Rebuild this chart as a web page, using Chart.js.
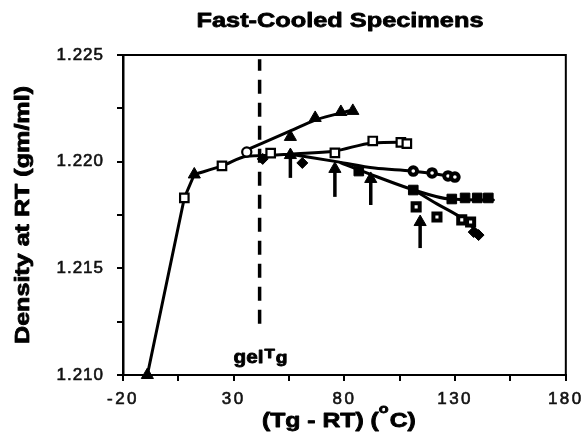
<!DOCTYPE html>
<html><head><meta charset="utf-8">
<script src="https://cdn.jsdelivr.net/npm/chart.js@4/dist/chart.umd.min.js"></script>
<style>html,body{margin:0;padding:0;background:#fff}#wrap{width:588px;height:446px}</style>
</head><body><div id="wrap"><canvas id="c" width="588" height="446"></canvas></div>
<script>
// ---- tick labels ----
const xMajorTicks = [-20, 30, 80, 130, 180];
const xMinorTicks = [5, 55, 105, 155];
const yMajorTicks = [1.210, 1.215, 1.220, 1.225];
const yMinorTicks = [1.2125, 1.2175, 1.2225];

// ---- fitted curves ----
const fitRiseX = [-9, 7.7, 12.2];
const fitRiseY = [1.2100, 1.2183, 1.2194];
const fitMainX = [12.2, 24.7, 35.9, 46.7, 55.6];
const fitMainY = [1.2194, 1.2198, 1.22025, 1.2203, 1.22035];
const fitTriX = [35.9, 55.6, 66.8, 83.8];
const fitTriY = [1.22055, 1.22144, 1.22195, 1.22242];
const fitOpenSqX = [55.6, 75.7, 92.8, 108.4];
const fitOpenSqY = [1.22035, 1.2205, 1.22088, 1.22092];
const fitDiaX = [55.6, 77.1, 93.6, 110.6, 130.8];
const fitDiaY = [1.22035, 1.21999, 1.2197, 1.21956, 1.21928];
const fitFSqX = [78.4, 95, 111.5, 127.6, 147.3];
const fitFSqY = [1.21994, 1.21928, 1.21867, 1.21825, 1.2182];
const fitDotSqX = [111.5, 121.8, 132.1, 141.1];
const fitDotSqY = [1.21867, 1.21802, 1.21741, 1.21666];

// ---- measured points ----
const triX = [-9, 12.2, 55.6, 66.8, 78.4, 83.8];
const triY = [1.2100, 1.2194, 1.22116, 1.22205, 1.22233, 1.22238];
const openSqX = [7.7, 24.7, 46.7, 75.7, 92.8, 105.5, 108.2];
const openSqY = [1.2183, 1.2198, 1.2204, 1.22041, 1.22097, 1.2209, 1.22085];
const openCircX = [35.9];
const openCircY = [1.22045];
const filledDiaX = [43.1, 61, 138.4, 140.6];
const filledDiaY = [1.22013, 1.21994, 1.2167, 1.21656];
const filledSqX = [86.5, 111.1, 128.5, 134.5, 140, 145];
const filledSqY = [1.21956, 1.21867, 1.21825, 1.2183, 1.2183, 1.2183];
const dotCircX = [111.1, 119.6, 126.8, 129.9];
const dotCircY = [1.21956, 1.21947, 1.21933, 1.21928];
const dotSqX = [112.4, 121.8, 133.0, 137.0];
const dotSqY = [1.21788, 1.21741, 1.21727, 1.21717];

// ---- arrows ----
const arrowX = [55.6, 75.7, 91.9, 114.2];
const arrowHeadY = [1.22031, 1.21966, 1.21919, 1.21717];
const arrowTailY = [1.21924, 1.21835, 1.21797, 1.21595];

// ---- gel Tg dashed line ----
const gelTgX = 41.7;
const gelTgYRange = [1.2124, 1.2248];

const zip = (xs, ys) => xs.map((x, i) => ({x: x, y: ys[i]}));
const BLACK = '#000';

function fitLine(xs, ys, straight) {
  const d = {data: zip(xs, ys), showLine: true, borderColor: BLACK, borderWidth: 3,
    pointRadius: 0, order: 10, clip: false, borderJoinStyle: 'round', borderCapStyle: 'round'};
  if (straight) d.tension = 0; else d.cubicInterpolationMode = 'monotone';
  return d;
}
function markers(xs, ys, style, radius, fill, bw) {
  return {data: zip(xs, ys), showLine: false, pointStyle: style, pointRadius: radius,
    pointBackgroundColor: fill, pointBorderColor: BLACK, pointBorderWidth: bw, order: 0, clip: false};
}

const datasets = [
  fitLine(fitRiseX, fitRiseY, true),
  fitLine(fitMainX, fitMainY),
  fitLine(fitTriX, fitTriY),
  fitLine(fitOpenSqX, fitOpenSqY),
  fitLine(fitDiaX, fitDiaY),
  fitLine(fitFSqX, fitFSqY),
  fitLine(fitDotSqX, fitDotSqY),
  {data: [{x: gelTgX, y: gelTgYRange[0]}, {x: gelTgX, y: gelTgYRange[1]}], showLine: true,
   borderColor: BLACK, borderWidth: 3.5, borderDash: [14, 9], pointRadius: 0, order: 10},
  markers(triX, triY, 'triangle', 7, BLACK, 1),
  markers(openSqX, openSqY, 'rect', 6, '#fff', 2.2),
  markers(openCircX, openCircY, 'circle', 4.6, '#fff', 2.2),
  markers(filledDiaX, filledDiaY, 'rectRot', 5.5, BLACK, 1),
  markers(filledSqX, filledSqY, 'rect', 6.8, BLACK, 1),
  markers(dotCircX, dotCircY, 'circle', 3.8, '#fff', 4),
  markers(dotSqX, dotSqY, 'rect', 5, '#fff', 4)
];
arrowX.forEach((x, i) => {
  datasets.push({data: [{x: x, y: arrowTailY[i]}, {x: x, y: arrowHeadY[i]}], showLine: true,
    borderColor: BLACK, borderWidth: 3.5, pointRadius: [0, 7], pointStyle: 'triangle',
    pointBackgroundColor: BLACK, pointBorderColor: BLACK, pointBorderWidth: 1, order: 1, clip: false});
});

const FONT = '"Liberation Sans", Arial, Helvetica, sans-serif';

function stretchText(ctx, txt, x, y, font, sx, align) {
  ctx.save();
  ctx.font = font;
  ctx.translate(x, y);
  ctx.scale(sx, 1);
  ctx.textAlign = align || 'left';
  ctx.textBaseline = 'alphabetic';
  ctx.lineWidth = 0.8;
  ctx.strokeStyle = BLACK;
  ctx.lineJoin = 'round';
  ctx.fillText(txt, 0, 0);
  ctx.strokeText(txt, 0, 0);
  const w = ctx.measureText(txt).width * sx;
  ctx.restore();
  return w;
}

const spacingPlugin = {
  id: 'spacing',
  beforeDraw(chart) {
    const spec = {x: '2.5px', y: '1px'};
    Object.keys(spec).forEach(id => {
      const s = chart.scales[id];
      if (s && !s._wrapped) {
        const orig = s.drawLabels.bind(s);
        s.drawLabels = function (area) {
          const ctx = chart.ctx;
          ctx.save();
          ctx.letterSpacing = spec[id];
          orig(area);
          ctx.restore();
        };
        s._wrapped = true;
      }
    });
  }
};

const decorPlugin = {
  id: 'decor',
  afterDraw(chart) {
    const ctx = chart.ctx;
    const a = chart.chartArea;
    ctx.save();
    ctx.strokeStyle = BLACK;
    ctx.lineWidth = 2;
    ctx.beginPath();
    ctx.moveTo(a.left, a.top);
    ctx.lineTo(a.right, a.top);
    ctx.lineTo(a.right, a.bottom);
    ctx.stroke();
    ctx.fillStyle = BLACK;

    // title
    const tf = 'bold 21px ' + FONT;
    ctx.font = tf;
    const title = 'Fast-Cooled Specimens';
    const tw = ctx.measureText(title).width;
    stretchText(ctx, title, 340, 27, tf, 287 / tw, 'center');

    // y-axis title
    ctx.save();
    ctx.translate(29, 215);
    ctx.rotate(-Math.PI / 2);
    const yf = 'bold 20px ' + FONT;
    ctx.font = yf;
    const yt = 'Density at RT (gm/ml)';
    const yw = ctx.measureText(yt).width;
    stretchText(ctx, yt, 0, 0, yf, 258 / yw, 'center');
    ctx.restore();

    // x-axis title
    const f1 = 'bold 20px ' + FONT, f2 = 'bold 13px ' + FONT;
    ctx.font = f1;
    const p1 = '(Tg - RT) (', p3 = 'C)';
    let nat = ctx.measureText(p1).width + ctx.measureText(p3).width;
    ctx.font = f2;
    nat += ctx.measureText('o').width + 1;
    const sx = 154 / nat;
    let x = 262;
    x += stretchText(ctx, p1, x, 427, f1, sx, 'left');
    x += stretchText(ctx, 'o', x, 413, f2, sx, 'left') + 1;
    stretchText(ctx, p3, x, 427, f1, sx, 'left');

    // gel Tg label
    const xs = chart.scales.x;
    let gx = xs.getPixelForValue(gelTgX) - 26;
    gx += stretchText(ctx, 'gel', gx, 363, 'bold 18px ' + FONT, 1.15, 'left') + 1;
    gx += stretchText(ctx, 'T', gx, 358, 'bold 13px ' + FONT, 1.3, 'left') + 1;
    stretchText(ctx, 'g', gx, 363, 'bold 16px ' + FONT, 1.2, 'left');
    ctx.restore();
  }
};

const near = (v, arr) => arr.some(t => Math.abs(t - v) < 1e-7);

new Chart(document.getElementById('c'), {
  type: 'scatter',
  data: {datasets: datasets},
  options: {
    responsive: false,
    animation: false,
    devicePixelRatio: 1,
    layout: {padding: {top: 55, right: 18, left: 0, bottom: 0}},
    plugins: {legend: {display: false}, tooltip: {enabled: false}, title: {display: false}},
    scales: {
      x: {
        type: 'linear', min: -20, max: 180,
        afterBuildTicks: s => { s.ticks = xMajorTicks.concat(xMinorTicks).sort((a, b) => a - b).map(v => ({value: v})); },
        afterFit: s => { s.height = 71; },
        ticks: {
          autoSkip: false, maxRotation: 0, padding: 8, color: '#111',
          textStrokeColor: '#111', textStrokeWidth: 0.6,
          font: {family: FONT, size: 17},
          callback: v => near(v, xMajorTicks) ? String(v) : ''
        },
        grid: {drawOnChartArea: false, drawTicks: true, tickLength: 6, color: BLACK, lineWidth: 2},
        border: {color: BLACK, width: 2}
      },
      y: {
        type: 'linear', min: 1.210, max: 1.225,
        afterBuildTicks: s => { s.ticks = yMajorTicks.concat(yMinorTicks).sort((a, b) => a - b).map(v => ({value: v})); },
        afterFit: s => { s.width = 123; },
        ticks: {
          autoSkip: false, padding: 13, color: '#111',
          textStrokeColor: '#111', textStrokeWidth: 0.6,
          font: {family: FONT, size: 17},
          callback: v => near(v, yMajorTicks) ? v.toFixed(3) : ''
        },
        grid: {drawOnChartArea: false, drawTicks: true, tickLength: 6, color: BLACK, lineWidth: 2},
        border: {color: BLACK, width: 2.5}
      }
    }
  },
  plugins: [spacingPlugin, decorPlugin]
});
</script>
</body></html>
